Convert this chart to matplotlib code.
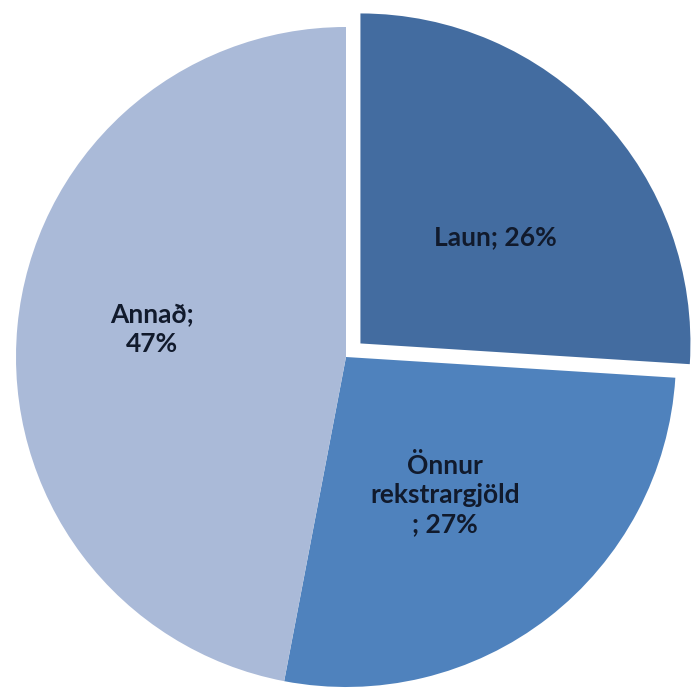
import matplotlib.pyplot as plt

# share of costs
labels = ['Laun', 'Önnur\nrekstrargjöld\n', 'Annað;\n']
pct_text = ['; 26%', '; 27%', '47%']
values = [26, 27, 47]
colors = ['#436ca0', '#4f82bd', '#aabad8']
explode = [0.06, 0, 0]

# label spots, in pie-radius units from the centre
label_pos = [(0.452, 0.364), (0.300, -0.418), (-0.588, 0.082)]

W, H = 691, 688
cx, cy, r = 346, 357, 330

fig = plt.figure(figsize=(W / 100, H / 100), dpi=100)
ax = fig.add_axes([0, 0, 1, 1])
ax.pie(values, colors=colors, explode=explode, startangle=90,
       counterclock=False, radius=1.0,
       wedgeprops={'linewidth': 0})
ax.set_xlim(-cx / r, (W - cx) / r)
ax.set_ylim(-(H - cy) / r, cy / r)
ax.set_aspect('equal')
ax.axis('off')

for i in range(len(values)):
    ax.text(label_pos[i][0], label_pos[i][1], labels[i] + pct_text[i],
            ha='center', va='center', fontsize=19, fontweight='bold',
            family=['Lato', 'DejaVu Sans'], color='#111a2c',
            linespacing=1.25)

fig.savefig('out.png', dpi=100)
